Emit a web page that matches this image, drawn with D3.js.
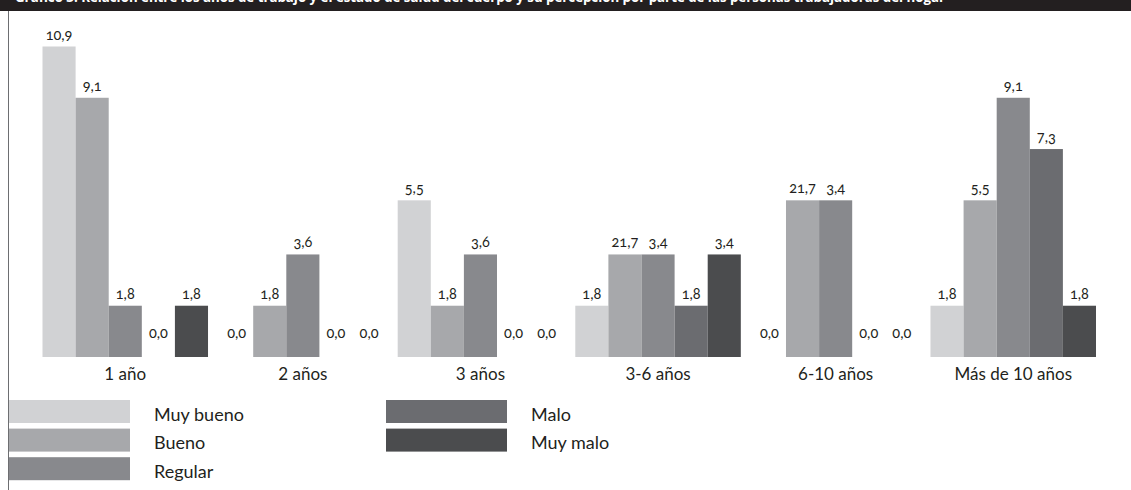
<!DOCTYPE html>
<html lang="es">
<head>
<meta charset="utf-8">
<script src="https://cdn.jsdelivr.net/npm/d3@7/dist/d3.min.js"></script>
<style>
  html, body { margin: 0; padding: 0; background: #fff; }
  svg { display: block; }
  .val { font-family: Lato, "Noto Sans", sans-serif; font-size: 14.5px; fill: #231f20;
         font-variant-numeric: oldstyle-nums; font-feature-settings: "onum" 1; }
  .cat { font-family: Lato, "Noto Sans", sans-serif; font-size: 17px; fill: #231f20; }
  .leg { font-family: Lato, "Noto Sans", sans-serif; font-size: 18px; fill: #231f20; }
  .title { font-family: "Open Sans", "Noto Sans", sans-serif; font-size: 14px; font-weight: bold; fill: #fff; }
</style>
</head>
<body>
<svg id="chart" width="1131" height="490"></svg>
<script>
// Years of work, grouped on the horizontal axis
const categories = ["1 año", "2 años", "3 años", "3-6 años", "6-10 años", "Más de 10 años"];
// Perceived body health rating, one bar per rating in each group
const series = ["Muy bueno", "Bueno", "Regular", "Malo", "Muy malo"];
const colors = ["#d1d2d4", "#a7a8ab", "#88898d", "#6b6c70", "#4b4c4e"];

// Bar values (%), one row per category, in series order
const values = [
  [10.9, 9.1, 1.8, 0.0, 1.8],
  [0.0, 1.8, 3.6, 0.0, 0.0],
  [5.5, 1.8, 3.6, 0.0, 0.0],
  [1.8, 3.6, 3.6, 1.8, 3.6],
  [0.0, 5.5, 5.5, 0.0, 0.0],
  [1.8, 5.5, 9.1, 7.3, 1.8]
];
// Printed labels as published (a few differ from the bar heights)
const labels = [
  ["10,9", "9,1", "1,8", "0,0", "1,8"],
  ["0,0", "1,8", "3,6", "0,0", "0,0"],
  ["5,5", "1,8", "3,6", "0,0", "0,0"],
  ["1,8", "21,7", "3,4", "1,8", "3,4"],
  ["0,0", "21,7", "3,4", "0,0", "0,0"],
  ["1,8", "5,5", "9,1", "7,3", "1,8"]
];

const title = "Gráfico 3. Relación entre los años de trabajo y el estado de salud del cuerpo y su percepción por parte de las personas trabajadoras del hogar";

const svg = d3.select("#chart");
const W = 1131, H = 490;

svg.append("rect").attr("width", W).attr("height", H).attr("fill", "#fff");

// Title band (the heading sits mostly above the top edge)
svg.append("rect").attr("x", 0).attr("y", 0).attr("width", W).attr("height", 11).attr("fill", "#231f20");
svg.append("text").attr("class", "title")
  .attr("x", 15).attr("y", 1.5)
  .attr("textLength", 930).attr("lengthAdjust", "spacingAndGlyphs")
  .text(title);

// Left frame rule
svg.append("line").attr("x1", 8.5).attr("x2", 8.5).attr("y1", 11).attr("y2", H)
  .attr("stroke", "#6d6e71").attr("stroke-width", 1);

const baseline = 357;
const x0 = d3.scaleBand().domain(categories).range([42.5, 1096]).paddingInner(0.068).paddingOuter(0);
const x1 = d3.scaleBand().domain(series).range([0, x0.bandwidth()]).padding(0);
const y = d3.scaleLinear().domain([0, 10.9]).range([baseline, 46.5]);
const color = d3.scaleOrdinal().domain(series).range(colors);

const rows = categories.map((c, i) => ({
  cat: c,
  items: series.map((s, j) => ({ s, v: values[i][j], label: labels[i][j] }))
}));

const groups = svg.append("g").selectAll("g").data(rows).join("g")
  .attr("transform", d => `translate(${x0(d.cat)},0)`);

groups.selectAll("rect").data(d => d.items.filter(e => e.v > 0)).join("rect")
  .attr("x", d => x1(d.s))
  .attr("y", d => y(d.v))
  .attr("width", x1.bandwidth())
  .attr("height", d => baseline - y(d.v))
  .attr("fill", d => color(d.s));

groups.selectAll("text").data(d => d.items).join("text")
  .attr("class", "val")
  .attr("text-anchor", "middle")
  .attr("x", d => x1(d.s) + x1.bandwidth() / 2)
  .attr("y", d => d.v > 0 ? y(d.v) - 7 : baseline - 19)
  .text(d => d.label);

// Category axis labels (no axis line)
const xAxis = d3.axisBottom(x0).tickSize(0).tickPadding(0);
const axisG = svg.append("g").attr("transform", `translate(0,${baseline})`).call(xAxis);
axisG.select(".domain").remove();
axisG.attr("font-size", null).attr("font-family", null);
axisG.selectAll("text").attr("class", "cat").attr("dy", null).attr("y", 22.5);

// Legend: two columns
const legendPos = [
  { x: 9, row: 0 }, { x: 9, row: 1 }, { x: 9, row: 2 },
  { x: 386, row: 0 }, { x: 386, row: 1 }
];
const leg = svg.append("g").selectAll("g").data(series).join("g")
  .attr("transform", (d, i) => `translate(${legendPos[i].x},${400 + legendPos[i].row * 28.6})`);
leg.append("rect").attr("width", 121).attr("height", 23).attr("fill", d => color(d));
leg.append("text").attr("class", "leg").attr("x", 145).attr("y", 20.5).text(d => d);
</script>
</body>
</html>
